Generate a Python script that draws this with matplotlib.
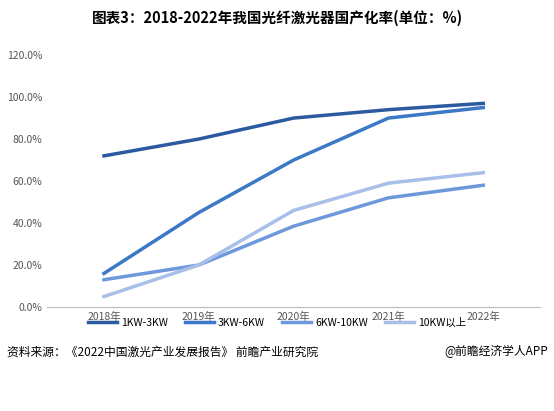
import matplotlib.pyplot as plt

plt.rcParams['font.family'] = ['Noto Sans CJK SC', 'DejaVu Sans']

years = ['2018年', '2019年', '2020年', '2021年', '2022年']
s1 = [72, 80, 90, 94, 97]
s2 = [16, 45, 70, 90, 95]
s3 = [13, 20, 38.5, 52, 58]
s4 = [5, 20, 46, 59, 64]
names = ['1KW-3KW', '3KW-6KW', '6KW-10KW', '10KW以上']
colors = ['#2c5aa0', '#3b78c6', '#6e98dc', '#a8bfe9']

fig = plt.figure(figsize=(5.54, 4.11), dpi=100)
ax = fig.add_axes([0.085, 0.253, 0.89, 0.613])
x = range(len(years))
for s, n, c in zip([s1, s2, s3, s4], names, colors):
    ax.plot(x, s, color=c, lw=2.5, label=n)

ax.set_ylim(0, 120)
ax.set_yticks(range(0, 121, 20))
ax.set_yticklabels([f'{v}.0%' for v in range(0, 121, 20)], fontsize=7.5, color='#555555')
ax.set_xticks(list(x))
ax.set_xticklabels(years, fontsize=7.5, color='#555555')
ax.set_xlim(-0.6, 4.6)
for sp in ['top', 'right', 'left']:
    ax.spines[sp].set_visible(False)
ax.spines['bottom'].set_color('#bbbbbb')
ax.tick_params(length=0)

fig.legend(loc='center', bbox_to_anchor=(0.5, 0.215), ncol=4, frameon=False,
           fontsize=7.5, handlelength=2.8, columnspacing=1.6, handletextpad=0.4)

fig.text(0.5, 0.945, '图表3：2018-2022年我国光纤激光器国产化率(单位：%)', ha='center',
         fontsize=10.5, fontweight='bold')
fig.text(0.012, 0.135, '资料来源：《2022中国激光产业发展报告》 前瞻产业研究院', fontsize=8.5)
fig.text(0.99, 0.135, '@前瞻经济学人APP', fontsize=8.5, ha='right')
fig.savefig('out.png', dpi=100)
